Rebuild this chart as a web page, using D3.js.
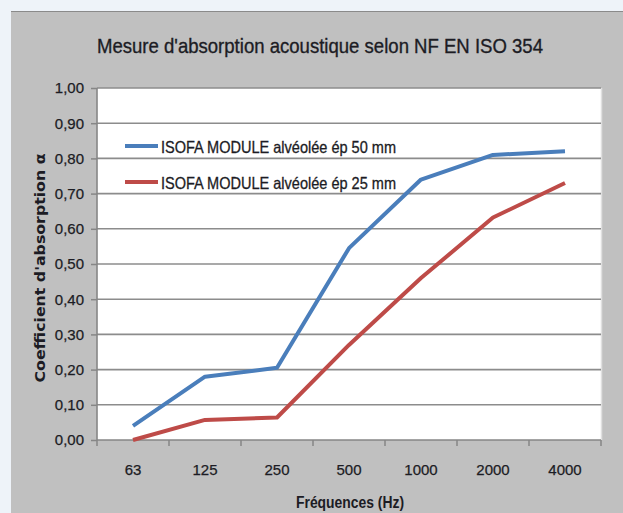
<!DOCTYPE html>
<html>
<head>
<meta charset="utf-8">
<script src="https://cdn.jsdelivr.net/npm/d3@7"></script>
<style>
  html, body { margin: 0; padding: 0; background: #eef3f9; }
  svg { display: block; }
</style>
</head>
<body>
<script>
const categories = ["63", "125", "250", "500", "1000", "2000", "4000"];
const series50 = [0.04, 0.18, 0.205, 0.545, 0.74, 0.81, 0.82];
const series25 = [0.00, 0.057, 0.064, 0.27, 0.46, 0.632, 0.73];
const yTicks = [0, 0.1, 0.2, 0.3, 0.4, 0.5, 0.6, 0.7, 0.8, 0.9, 1.0];
const seriesNames = ["ISOFA MODULE alvéolée ép 50 mm", "ISOFA MODULE alvéolée ép 25 mm"];
const seriesColors = ["#4a7ebb", "#be4b48"];

const W = 623, H = 513;
const svg = d3.select("body").append("svg").attr("width", W).attr("height", H);
const FONT = "'Liberation Sans', Arial, sans-serif";
const INK = "#1c1c24";

// page background + chart panel
svg.append("rect").attr("x", 0).attr("y", 0).attr("width", W).attr("height", H).attr("fill", "#eef3f9");
svg.append("rect").attr("x", 11).attr("y", 11).attr("width", W - 11).attr("height", H - 11).attr("fill", "#c0c0c0");
svg.append("line").attr("x1", 11).attr("x2", W).attr("y1", 11.5).attr("y2", 11.5).attr("stroke", "#8a8a8a").attr("stroke-width", 1);

const plot = { left: 97, right: 601, top: 88, bottom: 440 };
const x = d3.scaleBand().domain(categories).range([plot.left, plot.right]).padding(0);
const y = d3.scaleLinear().domain([0, 1]).range([plot.bottom, plot.top]);

// plot area
svg.append("rect").attr("x", plot.left).attr("y", plot.top)
  .attr("width", plot.right - plot.left).attr("height", plot.bottom - plot.top)
  .attr("fill", "#ffffff");
svg.append("line").attr("x1", plot.right + 0.5).attr("x2", plot.right + 0.5)
  .attr("y1", plot.top).attr("y2", plot.bottom).attr("stroke", "#e0e0e0").attr("stroke-width", 1.5);

// gridlines
svg.append("g").selectAll("line").data(yTicks.filter(d => d > 0)).join("line")
  .attr("x1", plot.left).attr("x2", plot.right)
  .attr("y1", d => y(d)).attr("y2", d => y(d))
  .attr("stroke", "#8c8c8c").attr("stroke-width", 1.6);

// y axis
const fmt = d => d.toFixed(2).replace(".", ",");
const yAxis = d3.axisLeft(y).tickValues(yTicks).tickFormat(fmt).tickSize(6).tickPadding(7);
const gy = svg.append("g").attr("transform", `translate(${plot.left},0)`).call(yAxis);
gy.select(".domain").attr("stroke", "#868686").attr("stroke-width", 1.6).attr("d", `M0,${plot.top}V${plot.bottom}`);
gy.selectAll(".tick line").attr("stroke", "#868686").attr("stroke-width", 1.5);
gy.selectAll(".tick text").attr("fill", INK).attr("font-family", FONT).attr("font-size", 15)
  .attr("stroke", INK).attr("stroke-width", 0.25);

// x axis
const xAxis = d3.axisBottom(x).tickSize(0).tickPadding(24);
const gx = svg.append("g").attr("transform", `translate(0,${plot.bottom})`).call(xAxis);
gx.select(".domain").attr("stroke", "#868686").attr("stroke-width", 1.6).attr("d", `M${plot.left},0H${plot.right}`);
gx.selectAll(".tick line").remove();
gx.selectAll(".tick text").attr("fill", INK).attr("font-family", FONT).attr("font-size", 15)
  .attr("stroke", INK).attr("stroke-width", 0.25);
// boundary tick marks
const bounds = categories.map(c => x(c)).concat([plot.right]);
svg.append("g").selectAll("line").data(bounds).join("line")
  .attr("x1", d => d).attr("x2", d => d).attr("y1", plot.bottom).attr("y2", plot.bottom + 6)
  .attr("stroke", "#868686").attr("stroke-width", 1.5);

// series lines
const line = d3.line().x((d, i) => x(categories[i]) + x.bandwidth() / 2).y(d => y(d));
[series50, series25].forEach((s, k) => {
  svg.append("path").datum(s).attr("d", line).attr("fill", "none")
    .attr("stroke", seriesColors[k]).attr("stroke-width", 4).attr("stroke-linejoin", "round");
});

// legend
const legY = [146, 182];
seriesNames.forEach((name, k) => {
  svg.append("line").attr("x1", 125).attr("x2", 158).attr("y1", legY[k]).attr("y2", legY[k])
    .attr("stroke", seriesColors[k]).attr("stroke-width", 4);
  svg.append("text").attr("x", 161).attr("y", legY[k] + 6.5).text(name)
    .attr("font-family", FONT).attr("font-size", 16.5)
    .attr("fill", INK).attr("stroke", INK).attr("stroke-width", 0.3)
    .attr("textLength", 235).attr("lengthAdjust", "spacingAndGlyphs");
});

// title
svg.append("text").attr("x", 320).attr("y", 53).attr("text-anchor", "middle")
  .text("Mesure d'absorption acoustique selon NF EN ISO 354")
  .attr("font-family", FONT).attr("font-size", 21)
  .attr("fill", INK).attr("stroke", INK).attr("stroke-width", 0.35)
  .attr("textLength", 446).attr("lengthAdjust", "spacingAndGlyphs");

// axis titles
svg.append("text").attr("transform", "translate(45,268) rotate(-90)").attr("text-anchor", "middle")
  .text("Coefficient d'absorption α")
  .attr("font-family", "'DejaVu Sans', sans-serif").attr("font-weight", "bold").attr("font-size", 13.5)
  .attr("fill", INK).attr("textLength", 229).attr("lengthAdjust", "spacingAndGlyphs");

svg.append("text").attr("x", 350).attr("y", 508).attr("text-anchor", "middle")
  .text("Fréquences (Hz)")
  .attr("font-family", FONT).attr("font-weight", "bold").attr("font-size", 16)
  .attr("fill", INK).attr("textLength", 108).attr("lengthAdjust", "spacingAndGlyphs");
</script>
</body>
</html>
